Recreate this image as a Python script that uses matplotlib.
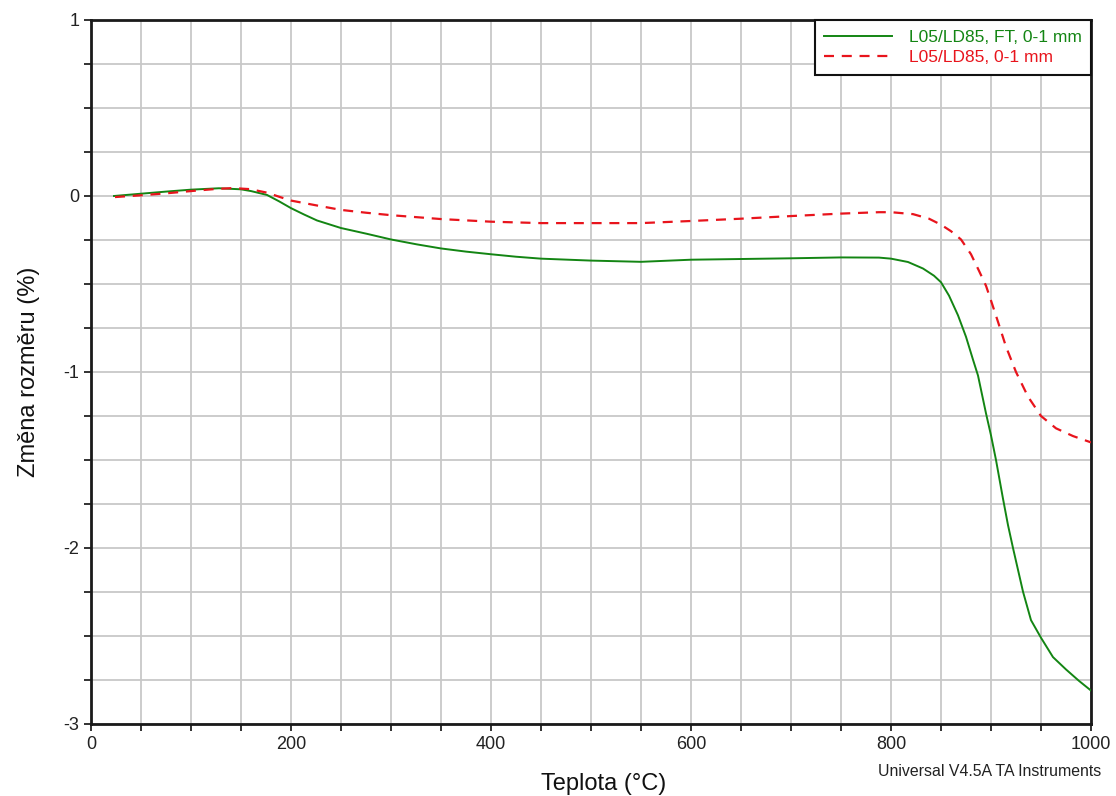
import matplotlib
matplotlib.use("Agg")
import matplotlib.pyplot as plt
from matplotlib.ticker import MultipleLocator

plt.rcParams['font.family'] = ['Liberation Sans', 'DejaVu Sans']
plt.rcParams['axes.unicode_minus'] = False  # reference uses plain hyphen

# values
temp_ft = [23, 50, 75, 100, 128, 150, 160, 176, 188, 200, 213, 226, 250, 276, 300, 326,
           350, 375, 400, 425, 450, 500, 550, 600, 650, 700, 750, 788, 800, 817, 832, 843,
           850, 858, 867, 875, 882, 887, 895, 900, 905, 912, 917, 922, 932, 940, 950, 962,
           975, 988, 1000]
dl_ft = [0.0, 0.013, 0.025, 0.036, 0.044, 0.038, 0.028, 0.006, -0.03, -0.069, -0.105,
         -0.139, -0.182, -0.215, -0.247, -0.275, -0.298, -0.316, -0.331, -0.345, -0.356,
         -0.367, -0.374, -0.362, -0.358, -0.354, -0.349, -0.35, -0.356, -0.375, -0.412,
         -0.453, -0.49, -0.566, -0.678, -0.8, -0.93, -1.02, -1.235, -1.36, -1.5, -1.72,
         -1.87, -2.0, -2.248, -2.41, -2.51, -2.62, -2.69, -2.755, -2.81]

temp_ref = [24, 50, 75, 100, 125, 142, 159, 176, 188, 200, 226, 250, 275, 300, 350, 400,
            450, 500, 550, 600, 650, 700, 750, 788, 800, 822, 838, 850, 860, 870, 880, 888,
            895, 900, 907, 915, 925, 937, 950, 965, 982, 1000]
dl_ref = [-0.006, 0.004, 0.015, 0.028, 0.04, 0.045, 0.039, 0.019, -0.004, -0.026, -0.054,
          -0.079, -0.095, -0.109, -0.131, -0.146, -0.154, -0.154, -0.154, -0.142, -0.129,
          -0.114, -0.1, -0.092, -0.092, -0.103, -0.129, -0.163, -0.2, -0.247, -0.331,
          -0.425, -0.51, -0.594, -0.715, -0.856, -1.0, -1.14, -1.25, -1.32, -1.364, -1.4]

label_ft = "L05/LD85, FT, 0-1 mm"
label_ref = "L05/LD85, 0-1 mm"
green = "#138513"
red = "#e8141c"

fig = plt.figure(figsize=(11.16, 7.96), dpi=100)
ax = fig.add_axes([91/1116, 1 - 724/796, 1000/1116, 704/796])

ax.plot(temp_ft, dl_ft, color=green, lw=1.4, label=label_ft, zorder=3)
ax.plot(temp_ref, dl_ref, color=red, lw=1.6, dashes=(4.5, 3.5), label=label_ref, zorder=3)

ax.set_xlim(0, 1000)
ax.set_ylim(-3, 1)
ax.xaxis.set_major_locator(MultipleLocator(200))
ax.xaxis.set_minor_locator(MultipleLocator(50))
ax.yaxis.set_major_locator(MultipleLocator(1))
ax.yaxis.set_minor_locator(MultipleLocator(0.25))
ax.grid(True, which='both', color='#c8c8c8', lw=1.3, zorder=0)
ax.set_axisbelow(True)
ax.tick_params(which='both', direction='out', length=5, width=1.3, color='#222222',
               labelsize=13, labelcolor='#222222')

for s in ax.spines.values():
    s.set_linewidth(2)
    s.set_color('#1a1a1a')

ax.set_xlabel("Teplota (°C)", fontsize=17, color='#111111')
ax.xaxis.set_label_coords((604 - 91) / 1000, -(773 - 724) / 704)
ax.set_ylabel("Změna rozměru (%)", fontsize=17, color='#111111', labelpad=17)

leg = ax.legend(loc='upper right', fontsize=12.5, handlelength=3.9, handletextpad=0.95,
                labelspacing=0.32, borderaxespad=0, fancybox=False, framealpha=1,
                borderpad=0.55)
leg.get_frame().set_edgecolor('#111111')
leg.get_frame().set_linewidth(1.5)
for txt, c in zip(leg.get_texts(), [green, red]):
    txt.set_color(c)

fig.text(1101/1116, 1 - 772/796, "Universal V4.5A TA Instruments", fontsize=11.4,
         ha='right', va='center', color='#222222')

fig.savefig("out.png", dpi=100)
